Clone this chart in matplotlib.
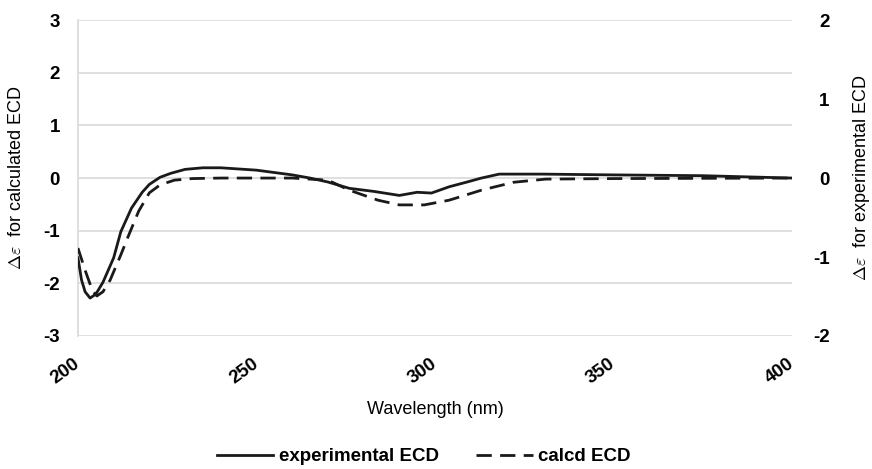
import matplotlib.pyplot as plt

plt.rcParams["font.family"] = ["Liberation Sans", "DejaVu Sans"]
plt.rcParams["mathtext.fontset"] = "cm"

# experimental ECD (right axis units)
exp_nm = [200, 201, 202, 203.4, 205, 207, 210, 212, 215, 218, 220, 223, 226,
          230, 235, 240, 250, 260, 265, 270, 276, 283, 290, 295, 299, 304,
          309, 313, 318, 330, 350, 375, 400]
exp_de = [-1.01, -1.29, -1.44, -1.52, -1.47, -1.32, -1.01, -0.68, -0.38,
          -0.18, -0.08, 0.01, 0.06, 0.11, 0.13, 0.13, 0.10, 0.04, 0.0,
          -0.05, -0.13, -0.17, -0.22, -0.18, -0.19, -0.11, -0.05, 0.0,
          0.05, 0.05, 0.04, 0.03, 0.0]

# calculated ECD (left axis units)
calc_nm = [200, 202, 204, 205.3, 207, 209, 212, 214, 217, 220, 223, 227, 232,
           240, 260, 270, 276, 284, 290, 297, 304, 313, 322, 331, 350, 400]
calc_de = [-1.33, -1.75, -2.13, -2.24, -2.16, -1.94, -1.46, -1.12, -0.63,
           -0.28, -0.13, -0.04, -0.01, 0.0, 0.0, -0.04, -0.23, -0.42, -0.51,
           -0.51, -0.42, -0.23, -0.08, -0.02, -0.01, 0.0]

left_ticks = [-3, -2, -1, 0, 1, 2, 3]
right_ticks = [-2, -1, 0, 1, 2]
x_ticks = [200, 250, 300, 350, 400]

fig = plt.figure(figsize=(8.72, 4.69), dpi=100)
ax = fig.add_axes([0.0894, 0.2836, 0.8189, 0.6735])
ax2 = ax.twinx()

ax.set_xlim(200, 400)
ax.set_ylim(-3, 3)
ax2.set_ylim(-2, 2)

for t in left_ticks:
    ax.axhline(t, color="#d9d9d9", lw=1.2, zorder=0)

ax.plot(calc_nm, calc_de, color="#1a1a1a", lw=2.0, ls=(0, (5.5, 3)),
        label="calcd ECD", zorder=3)
ax2.plot(exp_nm, exp_de, color="#1a1a1a", lw=2.0, label="experimental ECD",
         zorder=3)

for s in ["top", "right", "bottom"]:
    ax.spines[s].set_visible(False)
    ax2.spines[s].set_visible(False)
ax2.spines["left"].set_visible(False)
ax.spines["left"].set_color("#d9d9d9")
ax.spines["left"].set_linewidth(1.2)

ax.set_yticks(left_ticks)
ax.set_yticklabels([str(t) for t in left_ticks], fontsize=13.5, fontweight="bold")
ax2.set_yticks(right_ticks)
ax2.set_yticklabels([str(t) for t in right_ticks], fontsize=13.5,
                    fontweight="bold", ha="right")
ax.tick_params(axis="y", length=0, pad=13)
ax2.tick_params(axis="y", length=0, pad=27)

ax.set_xticks(x_ticks)
ax.set_xticklabels([str(t) for t in x_ticks], fontsize=13.5, fontweight="bold",
                   rotation=36, ha="right", va="center", rotation_mode="anchor")
ax.tick_params(axis="x", length=0, pad=19)

ax.set_xlabel("Wavelength (nm)", fontsize=13, labelpad=10)
ax.set_ylabel(r"$\Delta\varepsilon$  for calculated ECD", fontsize=13)
ax2.set_ylabel(r"$\Delta\varepsilon$  for experimental ECD", fontsize=13,
               rotation=90)
ax.yaxis.set_label_coords(-0.074, 0.5)
ax2.yaxis.set_label_coords(1.083, 0.5)

h1, l1 = ax2.get_legend_handles_labels()
h2, l2 = ax.get_legend_handles_labels()
fig.legend(h1 + h2, l1 + l2, loc="lower center", bbox_to_anchor=(0.486, -0.028),
           ncol=2, frameon=False, prop={"weight": "bold", "size": 13.5},
           handlelength=3.0, handletextpad=0.3, columnspacing=2.0)

fig.savefig("out.png", dpi=100)
